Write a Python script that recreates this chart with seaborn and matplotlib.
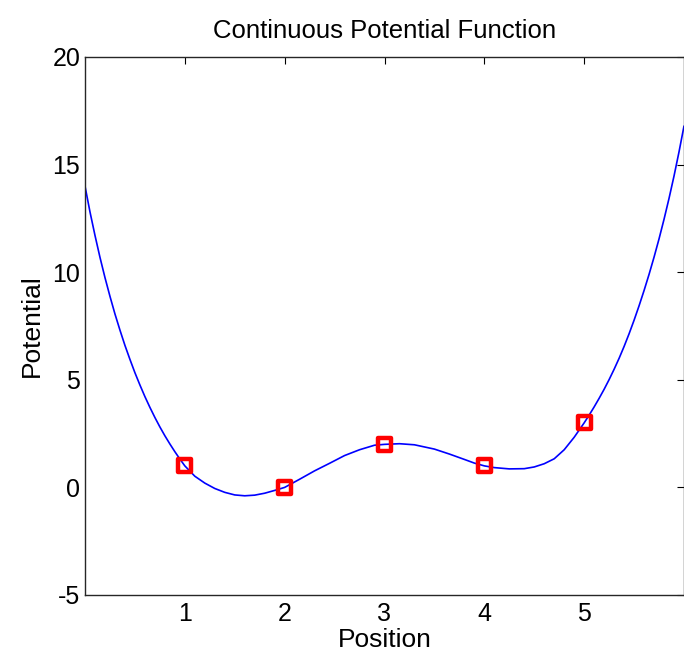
import matplotlib
matplotlib.use("Agg")
import matplotlib.pyplot as plt
import seaborn as sns
import pandas as pd

# Curve values
curve_x = [0.0, 0.05, 0.1, 0.15, 0.2, 0.25, 0.3, 0.35, 0.4, 0.45, 0.5, 0.55, 0.6, 0.65,
           0.7, 0.75, 0.8, 0.85, 0.9, 0.95, 1.0, 1.1, 1.2, 1.3, 1.4, 1.5, 1.6, 1.7, 1.8,
           1.9, 2.0, 2.15, 2.3, 2.45, 2.6, 2.75, 2.9, 3.0, 3.15, 3.3, 3.5, 3.65, 3.8, 3.9,
           4.0, 4.1, 4.25, 4.4, 4.5, 4.6, 4.7, 4.8, 4.9, 5.0, 5.05, 5.1, 5.15, 5.2, 5.25,
           5.3, 5.35, 5.4, 5.45, 5.5, 5.55, 5.6, 5.65, 5.7, 5.75, 5.8, 5.85, 5.9, 5.95, 6.0]
curve_y = [14.0, 12.8, 11.71, 10.69, 9.75, 8.88, 8.06, 7.31, 6.6, 5.95, 5.33, 4.76, 4.22,
           3.72, 3.25, 2.81, 2.4, 2.02, 1.66, 1.32, 1.0, 0.52, 0.2, -0.05, -0.23, -0.35,
           -0.39, -0.36, -0.27, -0.14, 0.0, 0.38, 0.77, 1.12, 1.48, 1.75, 1.96, 2.0, 2.03,
           1.98, 1.78, 1.55, 1.3, 1.13, 1.0, 0.92, 0.86, 0.87, 0.95, 1.1, 1.33, 1.75, 2.33,
           3.0, 3.36, 3.74, 4.14, 4.56, 5.01, 5.49, 6.0, 6.55, 7.14, 7.77, 8.44, 9.15, 9.9,
           10.7, 11.55, 12.46, 13.43, 14.47, 15.59, 16.79]

# Sample points (red squares)
point_x = [1, 2, 3, 4, 5]
point_y = [1, 0, 2, 1, 3]

title = "Continuous Potential Function"
xlabel = "Position"
ylabel = "Potential"
xticks = [1, 2, 3, 4, 5]
yticks = [-5, 0, 5, 10, 15, 20]

sns.set_style("white")
plt.rcParams['font.family'] = ['Liberation Sans', 'DejaVu Sans']
plt.rcParams['axes.unicode_minus'] = False
plt.rcParams['text.color'] = 'black'
plt.rcParams['axes.labelcolor'] = 'black'
plt.rcParams['xtick.color'] = 'black'
plt.rcParams['ytick.color'] = 'black'

fig = plt.figure(figsize=(6.84, 6.53), dpi=100)
ax = fig.add_axes([85 / 684, 58 / 653, 599 / 684, 538 / 653])

curve = pd.DataFrame({"x": curve_x, "y": curve_y})
pts = pd.DataFrame({"x": point_x, "y": point_y})

sns.lineplot(data=curve, x="x", y="y", ax=ax, color="#0000ff", linewidth=1.2,
             sort=False, estimator=None)
sns.scatterplot(data=pts, x="x", y="y", ax=ax, marker="s", s=85,
                facecolors="none", edgecolor="#ff0000", linewidth=3.2, zorder=5)

ax.set_xlim(0, 6)
ax.set_ylim(-5, 20)
ax.set_xticks(xticks)
ax.set_yticks(yticks)
ax.tick_params(direction="in", length=5, width=0.8, top=True, right=True,
               labelsize=18, colors="black")
ax.tick_params(axis="x", pad=5)
ax.tick_params(axis="y", pad=3.5)
for s in ax.spines.values():
    s.set_color("#262626")
    s.set_linewidth(1.0)
    s.set_visible(True)

ax.set_title(title, fontsize=18.5, pad=14, color="black")
ax.set_xlabel(xlabel, fontsize=19, labelpad=1.5)
ax.set_ylabel(ylabel, fontsize=19, labelpad=6)

fig.savefig("out.png", dpi=100)
